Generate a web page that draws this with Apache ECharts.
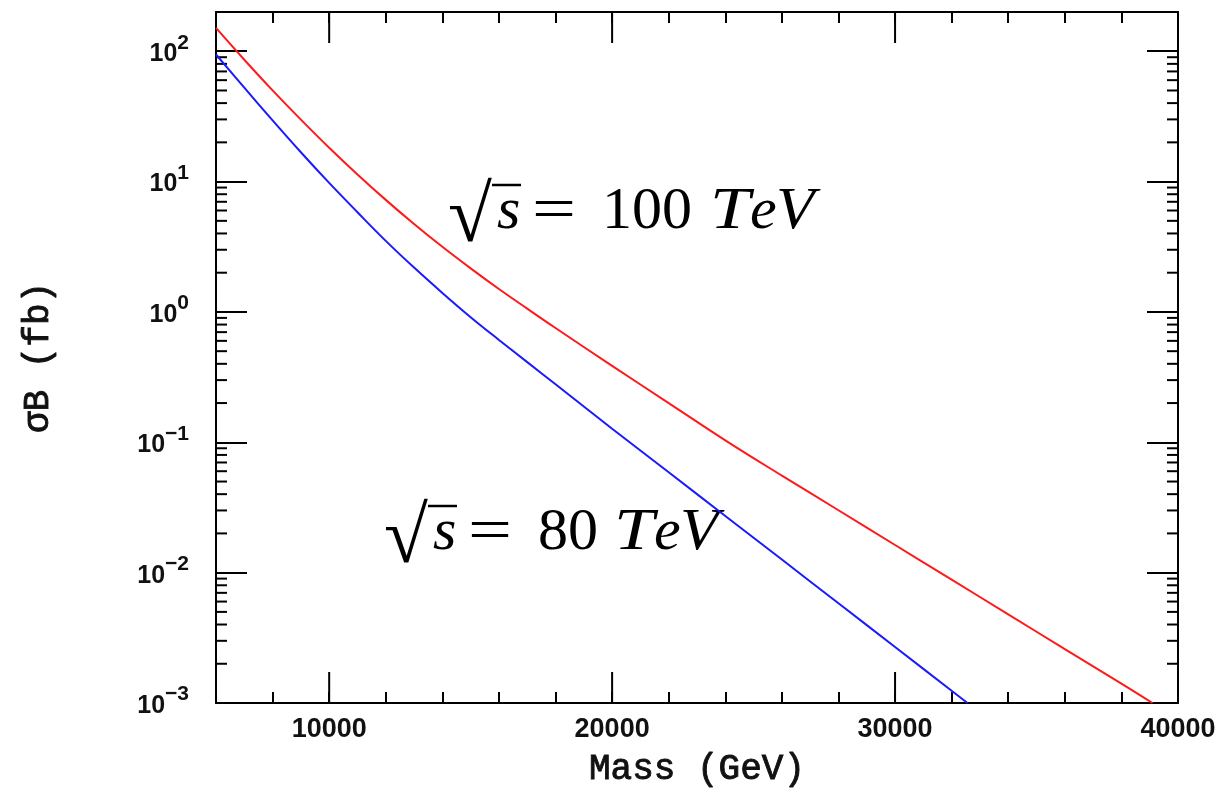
<!DOCTYPE html>
<html>
<head>
<meta charset="utf-8">
<script src="https://cdn.jsdelivr.net/npm/echarts@6/dist/echarts.min.js"></script>
<style>
  html, body { margin: 0; padding: 0; background: #fff; }
  #chart { width: 1222px; height: 798px; }
</style>
</head>
<body>
<div id="chart"></div>
<script>
// axis ranges
const X_MIN = 6000, X_MAX = 40000;
const Y_MIN = 0.001, Y_MAX = 200;
const xMajorTicks = [10000, 20000, 30000];
const yMinorMantissa = [2, 3, 4, 5, 6, 7, 8, 9];
const yDecades = [-3, -2, -1, 0, 1];

// sqrt(s) = 100 TeV
const mass100 = [6000, 7000, 8000, 9000, 10000, 11000, 12000, 13000, 14000, 15000, 16000, 17000,
  18000, 20000, 22000, 24000, 26000, 28000, 30000, 32000, 34000, 36000, 38000, 39100];
const sigma100 = [151, 86.1, 50.1, 29.9, 18.2, 11.35, 7.24, 4.73, 3.16, 2.16, 1.50, 1.06,
  0.753, 0.386, 0.200, 0.1035, 0.0555, 0.0301, 0.0163, 0.00883, 0.00479, 0.00259, 0.00141, 0.001];

// sqrt(s) = 80 TeV
const mass80 = [6000, 7000, 8000, 9000, 10000, 11000, 12000, 13000, 14000, 15000, 16000, 17000,
  18000, 20000, 22000, 24000, 26000, 28000, 30000, 32000, 32560];
const sigma80 = [94.4, 52.5, 29.5, 16.8, 9.77, 5.82, 3.51, 2.19, 1.40, 0.912, 0.610, 0.412,
  0.279, 0.127, 0.0589, 0.0272, 0.0126, 0.00582, 0.00269, 0.00124, 0.001];

const minorY = [];
yDecades.forEach(d => yMinorMantissa.forEach(m => minorY.push([X_MIN, m * Math.pow(10, d)])));

const chart = echarts.init(document.getElementById('chart'));

const axisLine = { onZero: false, lineStyle: { color: '#000', width: 2 } };
const tickStyle = { color: '#000', width: 2 };
const sans = '"Liberation Sans", Helvetica, Arial, sans-serif';
const mono = '"Liberation Mono", "Courier New", monospace';
const serif = '"Liberation Serif", "DejaVu Serif", serif';
const nameStyle = { color: '#111', fontFamily: mono, fontSize: 36, textBorderColor: '#111', textBorderWidth: 0.9 };

function xAxis(pos, withLabels) {
  return {
    type: 'value', position: pos, min: X_MIN, max: X_MAX, interval: 2000,
    axisLine: axisLine,
    axisTick: { inside: true, length: 11, lineStyle: tickStyle },
    splitLine: { show: false },
    axisLabel: {
      show: withLabels, margin: 13, color: '#111', fontFamily: sans, fontSize: 27, fontWeight: 'bold',
      formatter: v => (v % 10000 === 0 ? String(v) : '')
    },
    name: withLabels ? 'Mass (GeV)' : '',
    nameLocation: 'middle', nameGap: 48,
    nameTextStyle: nameStyle
  };
}

function yAxis(pos, withLabels) {
  return {
    type: 'log', logBase: 10, position: pos, min: Y_MIN, max: Y_MAX,
    axisLine: axisLine,
    axisTick: { inside: true, length: 31, lineStyle: tickStyle },
    splitLine: { show: false },
    axisLabel: {
      show: withLabels, margin: 27, showMaxLabel: false, padding: [6, 0, 0, 0],
      formatter: v => {
        const e = Math.round(Math.log10(v));
        return '{b|10}{e|' + (e < 0 ? '\u2212' + (-e) : e) + '}';
      },
      rich: {
        b: { fontFamily: sans, fontSize: 25, fontWeight: 'bold', color: '#111', lineHeight: 44, verticalAlign: 'middle' },
        e: { fontFamily: sans, fontSize: 21, fontWeight: 'bold', color: '#111', lineHeight: 21, verticalAlign: 'top' }
      }
    },
    name: withLabels ? '\u03c3B (fb)' : '',
    nameLocation: 'middle', nameGap: 160, nameRotate: 90,
    nameTextStyle: nameStyle
  };
}

// pieces of "sqrt(s) = N TeV", offsets relative to the radical's left edge
function energyLabel(x0, yMid, num, numWidth) {
  const f = 60;
  const t0 = 154 + numWidth + 20;
  const items = [
    { t: '\u221a', dx: 0, dy: 8, font: '80px ' + serif },
    { t: 's', dx: 49, font: 'italic ' + f + 'px ' + serif },
    { t: '=', dx: 84, font: f + 'px ' + serif, sx: 1.3 },
    { t: num, dx: 154, font: f + 'px ' + serif },
    { t: 'T', dx: t0, font: 'italic ' + f + 'px ' + serif, sx: 1.2 },
    { t: 'e', dx: t0 + 40, font: 'italic ' + f + 'px ' + serif },
    { t: 'V', dx: t0 + 66, font: 'italic ' + f + 'px ' + serif, sx: 1.05 }
  ];
  const els = items.map(it => ({
    type: 'text', x: x0 + it.dx, y: yMid + (it.dy || 0), scaleX: it.sx || 1, silent: true,
    style: { text: it.t, font: it.font, fill: '#000', align: 'left', verticalAlign: 'middle' }
  }));
  els.push({
    type: 'line', silent: true,
    shape: { x1: x0 + 44, y1: yMid - 27, x2: x0 + 73, y2: yMid - 27 },
    style: { stroke: '#000', lineWidth: 2.5 }
  });
  return els;
}

chart.setOption({
  backgroundColor: '#fff',
  animation: false,
  grid: { left: 216, right: 44, top: 12, bottom: 95, outerBoundsMode: 'none' },
  xAxis: [xAxis('bottom', true), xAxis('top', false)],
  yAxis: [yAxis('left', true), yAxis('right', false)],
  graphic: energyLabel(448, 212, '100', 88).concat(energyLabel(384, 533, '80', 56)),
  series: [
    {
      name: '100 TeV', type: 'line', smooth: 0.4, showSymbol: false,
      lineStyle: { color: '#ff1a1a', width: 2 },
      data: mass100.map((m, i) => [m, sigma100[i]])
    },
    {
      name: '80 TeV', type: 'line', smooth: 0.4, showSymbol: false,
      lineStyle: { color: '#1a1aff', width: 2 },
      data: mass80.map((m, i) => [m, sigma80[i]])
    },
    {
      // minor log ticks on left and right frame
      type: 'custom', silent: true, data: minorY,
      renderItem: (params, api) => {
        const l = api.coord([X_MIN, api.value(1)]);
        const r = api.coord([X_MAX, api.value(1)]);
        return {
          type: 'group', children: [
            { type: 'line', shape: { x1: l[0], y1: l[1], x2: l[0] + 11, y2: l[1] }, style: { stroke: '#000', lineWidth: 2 } },
            { type: 'line', shape: { x1: r[0], y1: r[1], x2: r[0] - 11, y2: r[1] }, style: { stroke: '#000', lineWidth: 2 } }
          ]
        };
      }
    },
    {
      // long ticks every 10000 GeV on bottom and top frame
      type: 'custom', silent: true, data: xMajorTicks.map(m => [m, Y_MIN]),
      renderItem: (params, api) => {
        const b = api.coord([api.value(0), Y_MIN]);
        const t = api.coord([api.value(0), Y_MAX]);
        return {
          type: 'group', children: [
            { type: 'line', shape: { x1: b[0], y1: b[1], x2: b[0], y2: b[1] - 31 }, style: { stroke: '#000', lineWidth: 2 } },
            { type: 'line', shape: { x1: t[0], y1: t[1], x2: t[0], y2: t[1] + 31 }, style: { stroke: '#000', lineWidth: 2 } }
          ]
        };
      }
    }
  ]
});
</script>
</body>
</html>
